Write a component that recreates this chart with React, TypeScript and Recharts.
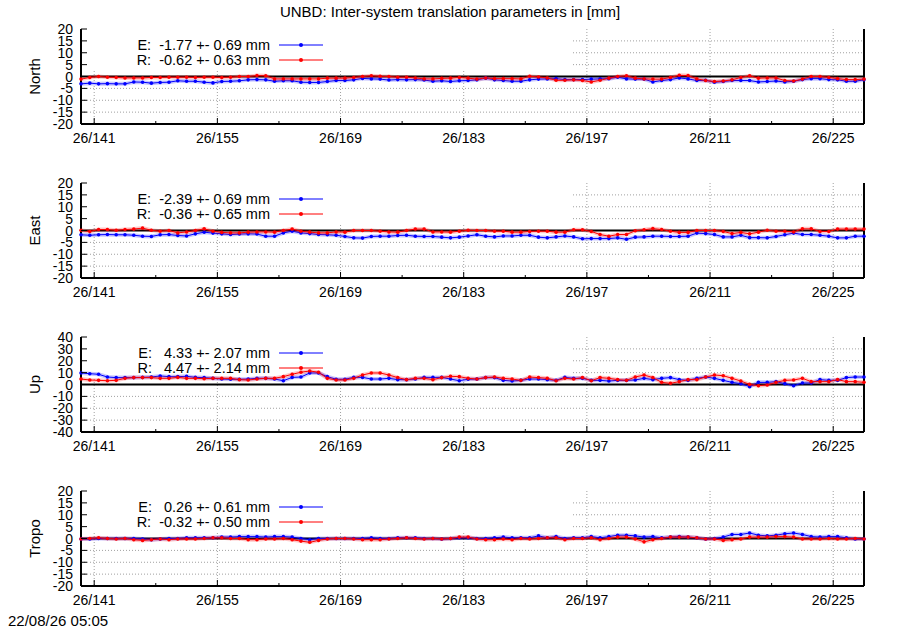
import React from "react";
import {
  CartesianGrid,
  Line,
  LineChart,
  ReferenceArea,
  ReferenceLine,
  XAxis,
  YAxis,
} from "recharts";

const FONT = '"Liberation Sans", Arial, sans-serif';
const YEAR = "26";
const FIRST_DAY = 139.5;
const LAST_DAY = 228.5;

// daily solutions, E = blue, R = red (mm)
const northE = [
  -3.1, -2.8, -3.1, -3, -3.1, -3.1, -2.3, -2.4, -2.8, -2.5, -2.4, -1.8, -2, -2, -2.4,
  -2.7, -2.1, -2, -1.8, -1.4, -1.3, -1.4, -2, -1.8, -1.8, -2.4, -2.5, -2.5, -2.1, -1.7,
  -1.7, -1.4, -0.8, -1, -1.1, -1.5, -1.3, -1.4, -1.3, -1.5, -2, -1.8, -2.1, -1.8, -1.7,
  -1.4, -0.7, -1.4, -1.7, -2, -2, -1.4, -1.1, -1, -0.9, -1.3, -1.3, -1.3, -1.1, -1,
  -0.9, -0.3, -1, -1.1, -1.1, -2.3, -1.7, -1.3, -0.6, -1, -1.7, -1.6, -2.4, -2.1, -1.7,
  -1.7, -1.7, -2.3, -2.1, -1.9, -2.3, -2, -1.3, -0.9, -0.9, -1.3, -1.4, -2, -2, -1.4,
];
const northR = [
  -1.1, -0.4, 0, -0.3, -0.4, -0.6, -0.6, -0.6, -0.4, -0.4, -0.3, -0.3, -0.3, -0.4, -0.3,
  -0.3, -0.4, -0.3, 0, 0, 0.4, 0.3, -1, -1, -1, -1, -1, -1, -0.7, -0.7,
  -0.7, -0.4, 0, 0.3, 0.1, 0, -0.3, -0.3, -0.6, -1, -1, -0.8, -0.7, -0.4, -0.7,
  -1.1, -0.6, -0.9, -0.9, -0.9, -1, 0.1, -0.2, -0.6, -1.6, -1.6, -1.4, -1.7, -2.3, -1.6,
  -0.7, 0, 0.3, -0.7, -1, -1.1, -1.1, -0.4, 0.5, 0.4, -1, -1.7, -2.1, -1.9, -1.4,
  -0.4, 0.3, -0.7, -0.6, -0.6, -1.7, -1.9, -1.1, 0, 0, -0.4, -0.9, -1.3, -1.3, -1.1,
];
const eastE = [
  -1.8, -2, -1.8, -1.7, -1.8, -1.8, -2, -2.4, -2.5, -1.8, -1.7, -2.1, -2.3, -1.4, -0.7,
  -1.1, -1.4, -1.7, -1.5, -1.4, -1.5, -2.4, -2.4, -1, -0.3, -1, -1.3, -1.7, -1.8, -2,
  -2.5, -3.1, -3.2, -2.5, -2.4, -2.4, -2.1, -2, -2.4, -2.5, -2.5, -2.8, -3.1, -2.8, -2.3,
  -1.8, -2.4, -2.7, -2.3, -2.3, -2, -2, -2.8, -3.1, -2.7, -2.3, -2.7, -3.5, -3.4, -3.4,
  -3.4, -3.1, -3.7, -2.8, -2.7, -2.4, -2.4, -2.5, -2.5, -2.4, -1.1, -1.3, -1.7, -2.7, -2.7,
  -2, -3, -3, -3.1, -2.5, -1.8, -1.1, -1.7, -1.7, -2, -2.4, -3.1, -3.1, -2.4, -2.4,
];
const eastR = [
  0.1, -0.4, 0.4, 0.4, 0.1, 0.4, 0.6, 1, 0.1, -0.3, 0, -1, -0.6, 0, 0.7,
  -0.3, -0.8, -1, -1, -0.7, -0.6, -0.6, -0.7, 0, 0.6, -0.3, -0.7, -1, -1, -0.6,
  -0.7, 0, 0, 0, -0.3, -0.6, -0.7, 0, 0.6, 0.6, -0.6, -0.6, -0.7, -0.3, 0.1,
  0, 0, -0.3, -0.3, -0.7, -0.7, -0.4, -0.3, -0.3, -0.7, -0.7, 0.3, 0.3, -0.4, -1.7,
  -2.4, -1.7, -1.7, -0.1, 0.3, 0.8, 0.4, -0.3, -0.8, -0.8, 0, 0, 0, -0.4, -1.3,
  -0.8, -1.4, -0.7, 0.1, -0.3, -0.3, -0.6, 0.7, 0.7, -0.4, -0.4, 0.6, 0.6, 0.6, 0.6,
];
const upE = [
  9.7, 9.1, 8.6, 6.3, 5.8, 5.8, 5.8, 6, 6.3, 7.2, 6.6, 6.6, 6.9, 6, 5.8,
  5.2, 4.6, 4.4, 4.4, 4.6, 5.2, 5.2, 4.6, 3.2, 6, 6.3, 9.7, 9.7, 6.6, 4.4,
  4.4, 6, 6, 4.6, 4.6, 5.2, 4.1, 4.1, 4.6, 6, 6, 6, 4.6, 3.2, 4.4,
  4.6, 5.8, 5.8, 3.5, 2.9, 3.5, 4.6, 4.6, 4.1, 3.5, 6, 5.2, 5.2, 3.5, 3.5,
  2.9, 3.5, 3.5, 3.8, 5.2, 4.1, 5.2, 5.8, 4.1, 3.5, 5.2, 6.3, 5.2, 3.5, 1.8,
  0.7, -1.8, 1.8, 1.8, 2.4, 0.7, -1, 1.3, 1.3, 4.1, 3.5, 3.5, 5.8, 6.3, 6.3,
];
const upR = [
  4.6, 3.8, 3.5, 3.2, 3.5, 5.2, 5.8, 5.8, 5.8, 5.2, 5.2, 6, 5.2, 5.2, 4.9,
  5.2, 5.2, 5.2, 4.1, 3.8, 4.6, 5.2, 5.2, 6.6, 8.6, 10.3, 11.4, 10.3, 5.2, 3.8,
  3.8, 5.2, 8, 9.7, 9.7, 8, 5.8, 4.1, 5.2, 5.2, 4.1, 5.8, 6.9, 6.6, 5.2,
  4.6, 5.8, 6.3, 5.2, 4.6, 3.5, 6.3, 5.8, 5.2, 3.2, 5.2, 4.6, 5.8, 3.2, 5.8,
  5.2, 4.1, 3.5, 6.3, 8, 5.8, 1.8, 1, 2.4, 4.1, 4.1, 6.3, 8, 7.4, 5.2,
  2.9, 0.1, -1, -0.4, 1.8, 3.5, 3.8, 5.2, 2.4, 2.4, 2.4, 4.1, 2.4, 2.4, 1.8,
];
const tropoE = [
  -0.2, -0.2, 0, 0, 0, 0, 0, -0.2, -0.5, -0.2, 0, 0, 0.3, 0.3, 0.3,
  0.3, 0.6, 0.6, 0.8, 0.8, 0.8, 0.6, 0.8, 0.8, 0.6, 0, -0.5, 0, 0, 0,
  0, 0, 0, 0.3, 0, 0, 0.3, 0.3, 0.3, 0, 0, -0.2, 0, 0.3, 0.3,
  0, 0, 0.3, 0.6, 0.3, 0.3, 0.3, 1.1, 0.3, 0.8, 0, 0.3, 0.3, 0.8, 0.3,
  0.8, 1.4, 1.4, 1.1, 0.6, 0.8, 0.3, 0.6, 0.8, 0.6, 0.3, -0.2, 0, 0.6, 1.7,
  1.7, 2.3, 1.4, 1.1, 1.4, 2, 2.3, 1.7, 0.8, 0.6, 0.8, 0.8, 0.3, -0.2, -0.2,
];
const tropoR = [
  -0.2, 0, 0.3, 0, -0.2, 0, -0.5, -0.8, -0.5, -0.2, -0.5, -0.2, -0.2, -0.2, 0,
  0.3, 0.3, 0, 0, -0.5, -0.5, -0.2, -0.2, 0, -0.5, -1.1, -1.6, -0.8, -0.2, 0,
  0, -0.2, -0.5, -0.5, -0.5, -0.2, 0, 0.3, 0, -0.2, 0, -0.2, 0, 0.6, 0.6,
  -0.2, -0.5, -0.5, -0.2, -0.5, 0, -0.2, 0, 0.3, 0.3, -0.5, 0, 0, 0.3, -0.5,
  0, 0.6, 0.6, -0.2, -1.4, -0.5, 0, 0.6, 0.6, 0.6, 0.3, -0.2, -0.2, -0.8, -0.5,
  -0.2, 0.6, 0.6, 0.6, 0.8, 0.8, 0.6, -0.2, -0.2, -0.2, 0, -0.2, -0.2, 0, -0.2,
];

const xTicks = [141, 148, 155, 162, 169, 176, 183, 190, 197, 204, 211, 218, 225];
const xMajorTicks = [141, 155, 169, 183, 197, 211, 225];
const yTicks20 = [-20, -15, -10, -5, 0, 5, 10, 15, 20];
const yTicks40 = [-40, -30, -20, -10, 0, 10, 20, 30, 40];

const panels = [
  { name: "North", e: northE, r: northR, yTicks: yTicks20, top: 29,
    eLabel: "E:  -1.77 +- 0.69 mm", rLabel: "R:  -0.62 +- 0.63 mm" },
  { name: "East", e: eastE, r: eastR, yTicks: yTicks20, top: 183,
    eLabel: "E:  -2.39 +- 0.69 mm", rLabel: "R:  -0.36 +- 0.65 mm" },
  { name: "Up", e: upE, r: upR, yTicks: yTicks40, top: 337,
    eLabel: "E:   4.33 +- 2.07 mm", rLabel: "R:   4.47 +- 2.14 mm" },
  { name: "Tropo", e: tropoE, r: tropoR, yTicks: yTicks20, top: 491,
    eLabel: "E:   0.26 +- 0.61 mm", rLabel: "R:  -0.32 +- 0.50 mm" },
];

const PLOT_H = 95;
const PAD = 12;

function LeftTick({ x, y, payload }: any) {
  return (
    <g>
      <line x1={x} x2={x + 6} y1={y} y2={y} stroke="#000" />
      <text x={x - 8} y={y} dy="0.36em" textAnchor="end" fontSize={14} fontFamily={FONT} fill="#000">
        {payload.value}
      </text>
    </g>
  );
}

function RightTick({ x, y }: any) {
  return <line x1={x - 6} x2={x} y1={y} y2={y} stroke="#000" />;
}

function BottomTick({ x, y, payload }: any) {
  const major = (payload.value - xTicks[0]) % 14 === 0;
  return (
    <g>
      <line x1={x} x2={x} y1={y} y2={y - (major ? 6 : 3)} stroke="#000" />
      {major && (
        <text x={x} y={y + 14} dy="0.36em" textAnchor="middle" fontSize={14} fontFamily={FONT} fill="#000">
          {`${YEAR}/${payload.value}`}
        </text>
      )}
    </g>
  );
}

function TopTick({ x, y, payload }: any) {
  const major = (payload.value - xTicks[0]) % 14 === 0;
  return <line x1={x} x2={x} y1={y} y2={y + (major ? 6 : 3)} stroke="#000" />;
}

function KeyRow({ y, label, color }: { y: number; label: string; color: string }) {
  return (
    <g>
      <text x={270} y={y} dy="0.36em" textAnchor="end" fontSize={14.5} fontFamily={FONT} fill="#000">
        {label.replace(/ /g, "\u00a0")}
      </text>
      <line x1={279} x2={323} y1={y} y2={y} stroke={color} />
      <circle cx={301} cy={y} r={2} fill={color} />
    </g>
  );
}

function Panel({ p }: { p: (typeof panels)[0] }) {
  const data = p.e.map((e, i) => ({ day: FIRST_DAY + i, e, r: p.r[i] }));
  const yMax = p.yTicks[p.yTicks.length - 1];
  const yMin = p.yTicks[0];
  const span = yMax - yMin;
  // opaque key box, like gnuplot's "set key opaque"
  const keyBottom = yMax - (41 / PLOT_H) * span;
  const keyRight = FIRST_DAY + (492 / 783) * (LAST_DAY - FIRST_DAY);
  const border = { stroke: "#000", strokeWidth: 2 };

  return (
    <div style={{ position: "absolute", left: 0, top: p.top - PAD, width: 900, height: PLOT_H + PAD + 40 }}>
      <LineChart width={900} height={PLOT_H + PAD + 40} data={data} margin={{ top: PAD, right: 0, bottom: 0, left: 0 }}>
        <CartesianGrid
          stroke="#a0a0a0"
          strokeDasharray="1 2"
          verticalValues={xMajorTicks}
          horizontalValues={p.yTicks.slice(1, -1)}
        />
        <ReferenceArea x1={FIRST_DAY} x2={keyRight} y1={keyBottom} y2={yMax} fill="#fff" fillOpacity={1} stroke="none" />
        <XAxis
          dataKey="day"
          type="number"
          domain={[FIRST_DAY, LAST_DAY]}
          ticks={xTicks}
          interval={0}
          height={40}
          tickSize={0}
          tickMargin={0}
          axisLine={border}
          tickLine={false}
          tick={<BottomTick />}
        />
        <XAxis
          xAxisId="top"
          orientation="top"
          dataKey="day"
          type="number"
          domain={[FIRST_DAY, LAST_DAY]}
          ticks={xTicks}
          interval={0}
          height={0}
          tickSize={0}
          tickMargin={0}
          axisLine={border}
          tickLine={false}
          tick={<TopTick />}
        />
        <YAxis
          type="number"
          domain={[yMin, yMax]}
          ticks={p.yTicks}
          interval={0}
          width={81}
          tickSize={0}
          tickMargin={0}
          axisLine={border}
          tickLine={false}
          tick={<LeftTick />}
          label={{ value: p.name, angle: -90, position: "center", dx: -6, fontSize: 15, fontFamily: FONT, fill: "#000" }}
        />
        <YAxis
          yAxisId="right"
          orientation="right"
          type="number"
          domain={[yMin, yMax]}
          ticks={p.yTicks}
          interval={0}
          width={36}
          tickSize={0}
          tickMargin={0}
          axisLine={border}
          tickLine={false}
          tick={<RightTick />}
        />
        <ReferenceLine y={0} stroke="#000" strokeWidth={2} />
        <Line dataKey="e" stroke="#0000ff" strokeOpacity={0.22} strokeWidth={4} dot={false} isAnimationActive={false} />
        <Line dataKey="e" stroke="#0000ff" strokeWidth={1} dot={{ r: 1.8, fill: "#0000ff", stroke: "none" }} isAnimationActive={false} />
        <Line dataKey="r" stroke="#ff0000" strokeOpacity={0.22} strokeWidth={4} dot={false} isAnimationActive={false} />
        <Line dataKey="r" stroke="#ff0000" strokeWidth={1} dot={{ r: 1.8, fill: "#ff0000", stroke: "none" }} isAnimationActive={false} />
      </LineChart>
      <svg width={340} height={45} style={{ position: "absolute", left: 0, top: PAD, pointerEvents: "none" }}>
        <KeyRow y={16} label={p.eLabel} color="#0000ff" />
        <KeyRow y={31} label={p.rLabel} color="#ff0000" />
      </svg>
    </div>
  );
}

export default function App() {
  return (
    <div style={{ position: "absolute", left: 0, top: 0, width: 900, height: 630, background: "#fff", fontFamily: FONT }}>
      <div style={{ position: "absolute", left: 0, top: 3, width: 900, textAlign: "center", fontSize: 15 }}>
        UNBD: Inter-system translation parameters in [mm]
      </div>
      {panels.map((p) => (
        <Panel key={p.name} p={p} />
      ))}
      <div style={{ position: "absolute", left: 8, top: 612, fontSize: 15 }}>22/08/26 05:05</div>
    </div>
  );
}
